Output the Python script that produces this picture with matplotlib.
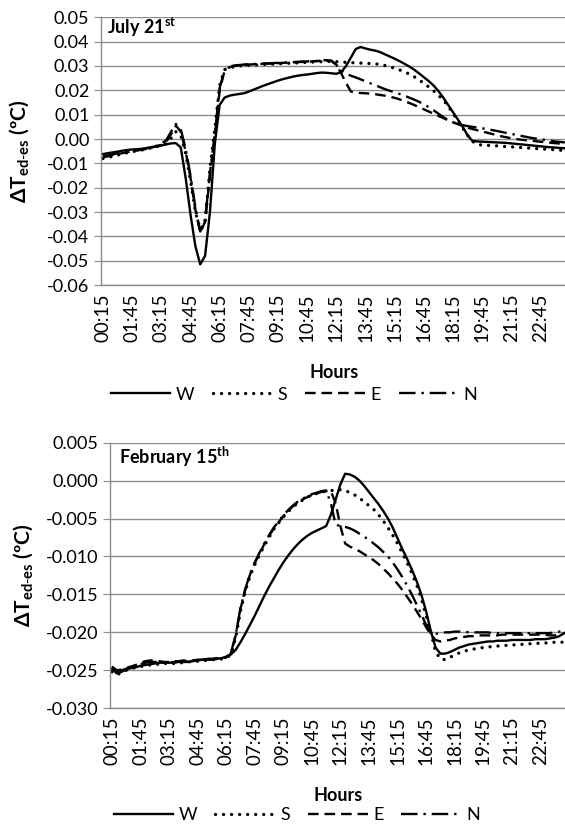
import numpy as np
import matplotlib
matplotlib.use('Agg')
import matplotlib.pyplot as plt

plt.rcParams['font.family'] = ['Lato', 'DejaVu Sans']
plt.rcParams['mathtext.fontset'] = 'custom'
plt.rcParams['mathtext.rm'] = 'Lato'
plt.rcParams['mathtext.bf'] = 'Lato:bold'
plt.rcParams['axes.unicode_minus'] = False

# 15-minute steps from 00:15 to 24:00
tick_pos = [0, 6, 12, 18, 24, 30, 36, 42, 48, 54, 60, 66, 72, 78, 84, 90]
tick_labels = ['00:15', '01:45', '03:15', '04:45', '06:15', '07:45', '09:15', '10:45',
               '12:15', '13:45', '15:15', '16:45', '18:15', '19:45', '21:15', '22:45']

# ---- July 21st ----
jul_W = [-0.0062, -0.0058, -0.0055, -0.0052, -0.0048, -0.0045, -0.0043, -0.0042, -0.0040, -0.0037,
         -0.0033, -0.0030, -0.0027, -0.0022, -0.0018, -0.0017, -0.0035, -0.0160, -0.0310, -0.0440,
         -0.0515, -0.0480, -0.0300, -0.0020, 0.0140, 0.0170, 0.0178, 0.0182, 0.0185, 0.0188,
         0.0195, 0.0203, 0.0211, 0.0219, 0.0226, 0.0233, 0.0240, 0.0246, 0.0251, 0.0256,
         0.0260, 0.0263, 0.0265, 0.0268, 0.0271, 0.0273, 0.0272, 0.0270, 0.0268, 0.0275,
         0.0300, 0.0335, 0.0370, 0.0378, 0.0372, 0.0367, 0.0363, 0.0357, 0.0348, 0.0339,
         0.0330, 0.0320, 0.0309, 0.0298, 0.0285, 0.0270, 0.0254, 0.0238, 0.0220, 0.0197,
         0.0170, 0.0140, 0.0110, 0.0080, 0.0050, 0.0015, -0.0008, -0.0010, -0.0011, -0.0012,
         -0.0013, -0.0014, -0.0015, -0.0016, -0.0018, -0.0020, -0.0022, -0.0024, -0.0026, -0.0028,
         -0.0030, -0.0032, -0.0034, -0.0035, -0.0037, -0.0038]
jul_S = [-0.0080, -0.0076, -0.0071, -0.0066, -0.0061, -0.0056, -0.0052, -0.0049, -0.0045, -0.0041,
         -0.0036, -0.0031, -0.0026, -0.0019, 0.0003, 0.0030, 0.0015, -0.0060, -0.0170, -0.0300,
         -0.0370, -0.0345, -0.0120, 0.0040, 0.0220, 0.0285, 0.0293, 0.0297, 0.0300, 0.0302,
         0.0303, 0.0304, 0.0305, 0.0306, 0.0307, 0.0308, 0.0309, 0.0310, 0.0311, 0.0312,
         0.0313, 0.0314, 0.0315, 0.0316, 0.0317, 0.0318, 0.0319, 0.0319, 0.0318, 0.0316,
         0.0315, 0.0314, 0.0313, 0.0312, 0.0311, 0.0310, 0.0309, 0.0306, 0.0302, 0.0297,
         0.0291, 0.0284, 0.0276, 0.0267, 0.0256, 0.0243, 0.0229, 0.0214, 0.0198, 0.0180,
         0.0160, 0.0135, 0.0105, 0.0075, 0.0045, 0.0015, -0.0010, -0.0022, -0.0025, -0.0026,
         -0.0027, -0.0028, -0.0030, -0.0031, -0.0032, -0.0034, -0.0035, -0.0036, -0.0038, -0.0039,
         -0.0040, -0.0042, -0.0043, -0.0044, -0.0046, -0.0047]
jul_E = [-0.0075, -0.0071, -0.0066, -0.0062, -0.0058, -0.0054, -0.0050, -0.0047, -0.0044, -0.0040,
         -0.0035, -0.0030, -0.0024, -0.0012, 0.0020, 0.0055, 0.0030, -0.0050, -0.0160, -0.0290,
         -0.0385, -0.0340, -0.0150, 0.0010, 0.0200, 0.0280, 0.0295, 0.0300, 0.0303, 0.0305,
         0.0306, 0.0307, 0.0308, 0.0309, 0.0310, 0.0311, 0.0312, 0.0313, 0.0314, 0.0315,
         0.0316, 0.0317, 0.0318, 0.0319, 0.0320, 0.0322, 0.0322, 0.0320, 0.0305, 0.0270,
         0.0230, 0.0195, 0.0190, 0.0189, 0.0188, 0.0186, 0.0184, 0.0181, 0.0178, 0.0174,
         0.0169, 0.0163, 0.0156, 0.0148, 0.0140, 0.0131, 0.0122, 0.0113, 0.0104, 0.0095,
         0.0086, 0.0077, 0.0069, 0.0061, 0.0054, 0.0047, 0.0041, 0.0036, 0.0031, 0.0026,
         0.0021, 0.0016, 0.0011, 0.0007, 0.0003, 0.0000, -0.0003, -0.0005, -0.0007, -0.0009,
         -0.0011, -0.0013, -0.0015, -0.0017, -0.0019, -0.0021]
jul_N = [-0.0070, -0.0067, -0.0063, -0.0059, -0.0056, -0.0052, -0.0049, -0.0046, -0.0043, -0.0039,
         -0.0034, -0.0028, -0.0020, -0.0005, 0.0030, 0.0062, 0.0040, -0.0040, -0.0150, -0.0280,
         -0.0380, -0.0330, -0.0140, 0.0020, 0.0210, 0.0285, 0.0298, 0.0302, 0.0304, 0.0306,
         0.0307, 0.0308, 0.0309, 0.0310, 0.0311, 0.0312, 0.0313, 0.0314, 0.0315, 0.0316,
         0.0317, 0.0318, 0.0319, 0.0320, 0.0321, 0.0323, 0.0324, 0.0322, 0.0305, 0.0280,
         0.0268, 0.0260, 0.0253, 0.0245, 0.0237, 0.0229, 0.0221, 0.0213, 0.0205, 0.0198,
         0.0192, 0.0185, 0.0178, 0.0170, 0.0162, 0.0153, 0.0143, 0.0131, 0.0118, 0.0104,
         0.0090, 0.0078, 0.0069, 0.0062, 0.0057, 0.0053, 0.0050, 0.0047, 0.0044, 0.0041,
         0.0037, 0.0033, 0.0029, 0.0025, 0.0021, 0.0017, 0.0013, 0.0009, 0.0005, 0.0002,
         -0.0001, -0.0004, -0.0007, -0.0010, -0.0012, -0.0014]

# ---- February 15th ----
feb_W = [-0.0248, -0.0254, -0.0252, -0.0249, -0.0247, -0.0246, -0.0244, -0.0243, -0.0242, -0.0241,
         -0.0240, -0.0240, -0.0240, -0.0240, -0.0239, -0.0239, -0.0239, -0.0238, -0.0237, -0.0236,
         -0.0236, -0.0236, -0.0235, -0.0234, -0.0232, -0.0229, -0.0223, -0.0213, -0.0202, -0.0190,
         -0.0178, -0.0165, -0.0152, -0.0140, -0.0129, -0.0118, -0.0108, -0.0099, -0.0091, -0.0084,
         -0.0078, -0.0073, -0.0069, -0.0066, -0.0063, -0.0060, -0.0045, -0.0025, -0.0005, 0.0009,
         0.0008, 0.0005, 0.0000, -0.0007, -0.0015, -0.0023, -0.0031, -0.0040, -0.0050, -0.0062,
         -0.0076, -0.0090, -0.0103, -0.0117, -0.0132, -0.0150, -0.0172, -0.0198, -0.0220, -0.0228,
         -0.0228, -0.0226, -0.0223, -0.0220, -0.0218, -0.0216, -0.0215, -0.0214, -0.0213, -0.0212,
         -0.0212, -0.0211, -0.0211, -0.0211, -0.0210, -0.0210, -0.0210, -0.0210, -0.0210, -0.0209,
         -0.0209, -0.0209, -0.0208, -0.0207, -0.0205, -0.0201]
feb_S = [-0.0252, -0.0256, -0.0253, -0.0250, -0.0248, -0.0246, -0.0245, -0.0244, -0.0243, -0.0242,
         -0.0242, -0.0241, -0.0241, -0.0241, -0.0240, -0.0240, -0.0239, -0.0238, -0.0238, -0.0237,
         -0.0237, -0.0236, -0.0236, -0.0235, -0.0234, -0.0229, -0.0207, -0.0172, -0.0146, -0.0126,
         -0.0111, -0.0098, -0.0086, -0.0075, -0.0064, -0.0056, -0.0048, -0.0041, -0.0035, -0.0030,
         -0.0026, -0.0022, -0.0019, -0.0017, -0.0015, -0.0014, -0.0013, -0.0013, -0.0012, -0.0013,
         -0.0016, -0.0019, -0.0023, -0.0028, -0.0033, -0.0038, -0.0045, -0.0053, -0.0062, -0.0072,
         -0.0083, -0.0095, -0.0108, -0.0122, -0.0137, -0.0155, -0.0178, -0.0200, -0.0225, -0.0235,
         -0.0236, -0.0233, -0.0230, -0.0227, -0.0225, -0.0223, -0.0222, -0.0221, -0.0220, -0.0219,
         -0.0219, -0.0218, -0.0218, -0.0217, -0.0217, -0.0216, -0.0216, -0.0215, -0.0215, -0.0215,
         -0.0214, -0.0214, -0.0214, -0.0213, -0.0213, -0.0213]
feb_E = [-0.0245, -0.0250, -0.0249, -0.0247, -0.0245, -0.0243, -0.0240, -0.0238, -0.0237, -0.0237,
         -0.0238, -0.0239, -0.0239, -0.0238, -0.0238, -0.0237, -0.0237, -0.0237, -0.0236, -0.0236,
         -0.0235, -0.0235, -0.0234, -0.0234, -0.0233, -0.0228, -0.0204, -0.0169, -0.0144, -0.0124,
         -0.0109, -0.0096, -0.0084, -0.0073, -0.0063, -0.0055, -0.0047, -0.0040, -0.0034, -0.0029,
         -0.0025, -0.0022, -0.0019, -0.0017, -0.0015, -0.0014, -0.0014, -0.0030, -0.0060, -0.0083,
         -0.0087, -0.0090, -0.0093, -0.0097, -0.0101, -0.0105, -0.0110, -0.0116, -0.0122, -0.0129,
         -0.0136, -0.0144, -0.0153, -0.0162, -0.0172, -0.0182, -0.0193, -0.0203, -0.0210, -0.0212,
         -0.0211, -0.0210, -0.0208, -0.0207, -0.0206, -0.0205, -0.0205, -0.0204, -0.0204, -0.0204,
         -0.0204, -0.0204, -0.0203, -0.0203, -0.0203, -0.0203, -0.0203, -0.0203, -0.0203, -0.0203,
         -0.0203, -0.0203, -0.0204, -0.0204, -0.0203, -0.0202]
feb_N = [-0.0247, -0.0251, -0.0250, -0.0248, -0.0246, -0.0244, -0.0242, -0.0240, -0.0239, -0.0239,
         -0.0239, -0.0240, -0.0240, -0.0239, -0.0238, -0.0238, -0.0238, -0.0237, -0.0236, -0.0236,
         -0.0235, -0.0235, -0.0235, -0.0234, -0.0233, -0.0227, -0.0203, -0.0168, -0.0143, -0.0123,
         -0.0108, -0.0095, -0.0083, -0.0072, -0.0062, -0.0054, -0.0046, -0.0039, -0.0033, -0.0028,
         -0.0024, -0.0021, -0.0018, -0.0016, -0.0014, -0.0013, -0.0030, -0.0058, -0.0060, -0.0061,
         -0.0063, -0.0066, -0.0070, -0.0074, -0.0078, -0.0083, -0.0088, -0.0094, -0.0100, -0.0108,
         -0.0117, -0.0127, -0.0138, -0.0150, -0.0163, -0.0176, -0.0190, -0.0200, -0.0202, -0.0201,
         -0.0200, -0.0200, -0.0199, -0.0199, -0.0199, -0.0200, -0.0200, -0.0200, -0.0200, -0.0200,
         -0.0201, -0.0201, -0.0201, -0.0201, -0.0201, -0.0201, -0.0201, -0.0201, -0.0201, -0.0201,
         -0.0201, -0.0201, -0.0201, -0.0200, -0.0199, -0.0198]

names = ['W', 'S', 'E', 'N']
grey = '#8c8c8c'

fig = plt.figure(figsize=(5.65, 8.25), dpi=100)
ax1 = fig.add_axes([0.178, 0.6545, 0.826, 0.3245])
ax2 = fig.add_axes([0.194, 0.1415, 0.8085, 0.322])


def draw(ax, series, ylim, yticks, fmt, title, title_xy, ylab_x, hours_y, leg_xy):
    x = np.arange(len(series[0]))
    ax.plot(x, series[0], color='black', lw=1.7, label=names[0])
    ax.plot(x, series[1], color='black', lw=2.4, dashes=(0.01, 2.4),
            dash_capstyle='round', label=names[1])
    ax.plot(x, series[2], color='black', lw=1.7, dashes=(4.5, 2.5), label=names[2])
    ax.plot(x, series[3], color='black', lw=1.7, dashes=(7, 2.5, 1, 2.5), label=names[3])
    ax.set_xlim(-0.5, 95.5)
    ax.set_ylim(ylim)
    ax.set_yticks(yticks)
    ax.set_yticklabels([fmt % v for v in yticks])
    ax.set_xticks(tick_pos)
    ax.set_xticklabels(tick_labels, rotation=90)
    ax.grid(axis='y', color=grey, lw=1.0)
    ax.set_axisbelow(True)
    for s in ['top', 'right']:
        ax.spines[s].set_visible(False)
    for s in ['left', 'bottom']:
        ax.spines[s].set_color(grey)
        ax.spines[s].set_linewidth(1.0)
    ax.tick_params(axis='y', length=5, color=grey, labelsize=13, pad=3)
    ax.tick_params(axis='x', length=0, labelsize=13.5, pad=6)
    ax.text(title_xy[0], title_xy[1], title, transform=ax.transAxes,
            fontsize=13, fontweight='bold', va='center', ha='left')
    ax.set_ylabel(r'$\mathbf{\Delta T}_{\mathbf{ed\text{-}es}}$ (ºC)', fontsize=15,
                  fontweight='bold')
    ax.yaxis.set_label_coords(ylab_x, 0.5)
    ax.set_xlabel('Hours', fontsize=13, fontweight='bold')
    ax.xaxis.set_label_coords(0.5, hours_y)
    ax.legend(loc='center', bbox_to_anchor=leg_xy, ncol=4, frameon=False,
              fontsize=13, handlelength=3.3, handletextpad=0.3, columnspacing=1.0)


draw(ax1, [jul_W, jul_S, jul_E, jul_N], (-0.06, 0.05), np.round(np.arange(-0.06, 0.051, 0.01), 3),
     '%.2f', r'July 21$^{\mathbf{st}}$', (0.014, 0.962), -0.147, -0.295, (0.415, -0.41))
draw(ax2, [feb_W, feb_S, feb_E, feb_N], (-0.030, 0.005), np.round(np.arange(-0.030, 0.0051, 0.005), 3),
     '%.3f', r'February 15$^{\mathbf{th}}$', (0.021, 0.947), -0.161, -0.295, (0.41, -0.402))

fig.savefig('out.png', dpi=100)
